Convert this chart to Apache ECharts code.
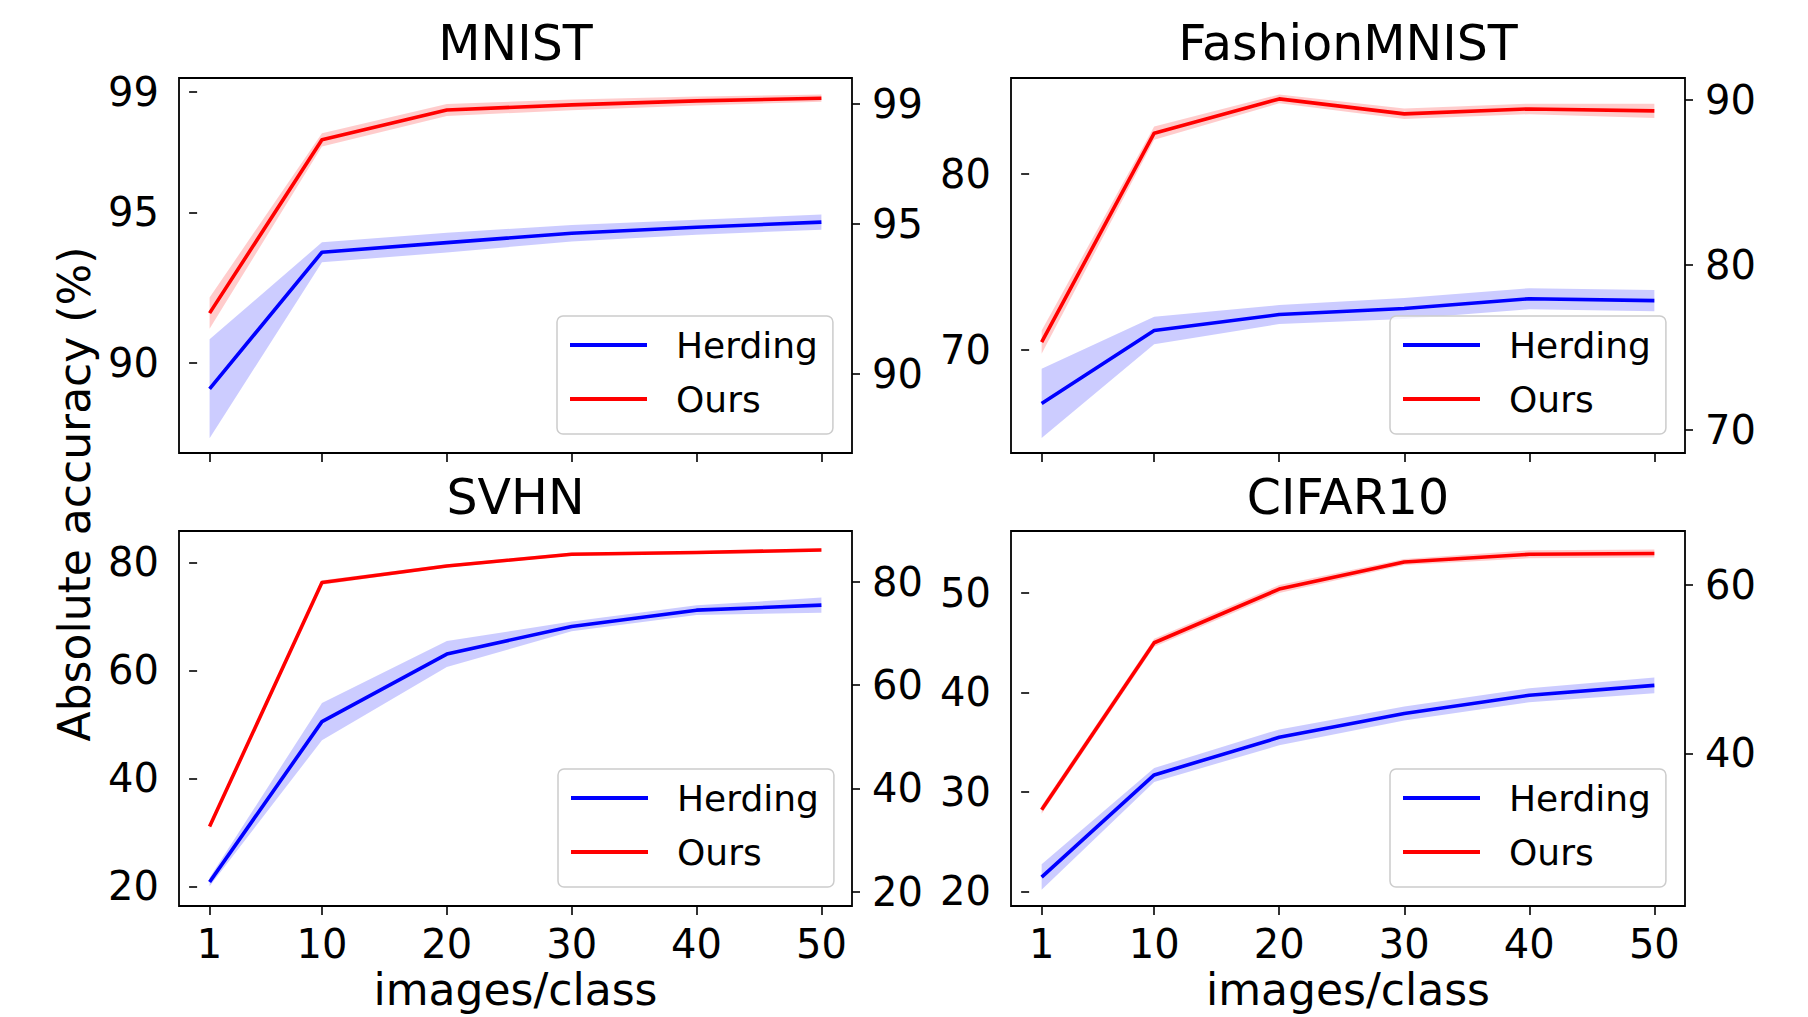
<!DOCTYPE html>
<html>
<head>
<meta charset="utf-8">
<script src="https://cdn.jsdelivr.net/npm/echarts@6/dist/echarts.min.js"></script>
<style>
html,body{margin:0;padding:0;background:#fff;}
#chart{width:1808px;height:1017px;}
</style>
</head>
<body>
<div id="chart"></div>
<script>
// ---------------- data ----------------
const xValues = [1, 10, 20, 30, 40, 50];
const xTicks = [1, 10, 20, 30, 40, 50];

const mnistHerding     = [89.15, 93.68, 94.00, 94.31, 94.51, 94.68];
const mnistHerdingStd  = [1.64, 0.33, 0.33, 0.27, 0.25, 0.25];
const mnistOurs        = [91.66, 97.41, 98.40, 98.57, 98.70, 98.79];
const mnistOursStd     = [0.52, 0.22, 0.20, 0.18, 0.15, 0.12];

const fashionHerding    = [66.95, 71.10, 72.01, 72.35, 72.91, 72.80];
const fashionHerdingStd = [1.97, 0.78, 0.54, 0.60, 0.60, 0.60];
const fashionOurs       = [70.44, 82.33, 84.28, 83.43, 83.71, 83.60];
const fashionOursStd    = [0.66, 0.38, 0.25, 0.30, 0.30, 0.40];

const svhnHerding    = [20.83, 50.52, 63.03, 68.15, 71.16, 72.09];
const svhnHerdingStd = [0.80, 3.45, 2.40, 0.90, 0.90, 1.40];
const svhnOurs       = [31.10, 76.28, 79.35, 81.52, 81.83, 82.31];
const svhnOursStd    = [0.50, 0.40, 0.30, 0.30, 0.30, 0.30];

const cifarHerding    = [21.44, 31.71, 35.49, 37.89, 39.72, 40.72];
const cifarHerdingStd = [1.28, 0.70, 0.80, 0.70, 0.70, 0.80];
const cifarOurs       = [28.21, 45.00, 50.40, 53.13, 53.90, 53.97];
const cifarOursStd    = [0.40, 0.40, 0.40, 0.30, 0.40, 0.40];

const mnistLeftTicks    = [90, 95, 99];
const mnistRightTicks   = [90, 95, 99];
const fashionLeftTicks  = [70, 80];
const fashionRightTicks = [70, 80, 90];
const svhnLeftTicks     = [20, 40, 60, 80];
const svhnRightTicks    = [20, 40, 60, 80];
const cifarLeftTicks    = [20, 30, 40, 50];
const cifarRightTicks   = [40, 60];

const titles = ['MNIST', 'FashionMNIST', 'SVHN', 'CIFAR10'];
const seriesNames = ['Herding', 'Ours'];

// ---------------- layout ----------------
const FONT = 'DejaVu Sans';
const BLUE = '#0000ff', RED = '#ff0000';
const BLUE_BAND = 'rgba(0,0,255,0.2)', RED_BAND = 'rgba(255,0,0,0.2)';

const panels = [
  {title: titles[0], grid: {left: 179, top: 78, width: 673, height: 375},
   left: {min: 87.02, max: 99.46, ticks: mnistLeftTicks},
   right: {min: 87.36, max: 99.85, ticks: mnistRightTicks},
   herding: mnistHerding, herdingStd: mnistHerdingStd, ours: mnistOurs, oursStd: mnistOursStd,
   legend: {left: 557, top: 316}, bottom: false, titleY: 26},
  {title: titles[1], grid: {left: 1011, top: 78, width: 674, height: 375},
   left: {min: 64.13, max: 85.47, ticks: fashionLeftTicks},
   right: {min: 68.59, max: 91.31, ticks: fashionRightTicks},
   herding: fashionHerding, herdingStd: fashionHerdingStd, ours: fashionOurs, oursStd: fashionOursStd,
   legend: {left: 1390, top: 316}, bottom: false, titleY: 26},
  {title: titles[2], grid: {left: 179, top: 531, width: 673, height: 375},
   left: {min: 16.38, max: 85.82, ticks: svhnLeftTicks},
   right: {min: 17.22, max: 89.86, ticks: svhnRightTicks},
   herding: svhnHerding, herdingStd: svhnHerdingStd, ours: svhnOurs, oursStd: svhnOursStd,
   legend: {left: 558, top: 769}, bottom: true, titleY: 480},
  {title: titles[3], grid: {left: 1011, top: 531, width: 674, height: 375},
   left: {min: 18.53, max: 56.24, ticks: cifarLeftTicks},
   right: {min: 21.9, max: 66.35, ticks: cifarRightTicks},
   herding: cifarHerding, herdingStd: cifarHerdingStd, ours: cifarOurs, oursStd: cifarOursStd,
   legend: {left: 1390, top: 769}, bottom: true, titleY: 480}
];

const grids = [], xAxes = [], yAxes = [], series = [], legends = [], graphics = [];

function bandSeries(gi, mean, sd, color) {
  return {
    type: 'custom', xAxisIndex: gi, yAxisIndex: gi * 2, silent: true, z: 1, clip: true,
    data: xValues.map((x, i) => [x, mean[i] - sd[i], mean[i] + sd[i]]),
    encode: {x: 0, y: [1, 2]},
    renderItem: function (params, api) {
      if (params.dataIndex !== 0) return null;
      const upper = xValues.map((x, i) => api.coord([x, mean[i] + sd[i]]));
      const lower = xValues.map((x, i) => api.coord([x, mean[i] - sd[i]])).reverse();
      return {type: 'polygon', shape: {points: upper.concat(lower)}, style: {fill: color}};
    }
  };
}
function lineSeries(gi, name, mean, color) {
  return {
    type: 'line', name: name, xAxisIndex: gi, yAxisIndex: gi * 2, z: 3,
    data: xValues.map((x, i) => [x, mean[i]]),
    symbol: 'none', showSymbol: false,
    lineStyle: {color: color, width: 3.6, join: 'round'},
    itemStyle: {color: color}
  };
}

const tickStyle = {color: '#000', width: 1.6};
const labelBase = {fontSize: 40, fontFamily: FONT, color: '#000'};

panels.forEach((p, gi) => {
  grids.push(Object.assign({show: true, borderColor: '#000', borderWidth: 1.8,
    backgroundColor: 'transparent', containLabel: false, outerBoundsMode: 'none'}, p.grid));
  xAxes.push({
    gridIndex: gi, type: 'value', min: -1.45, max: 52.45,
    axisLine: {show: false}, splitLine: {show: false},
    axisTick: {show: true, length: 9, lineStyle: tickStyle, customValues: xTicks},
    axisLabel: Object.assign({show: p.bottom, margin: 18, customValues: xTicks}, labelBase)
  });
  yAxes.push({
    gridIndex: gi, type: 'value', position: 'left', min: p.left.min, max: p.left.max,
    axisLine: {show: false}, splitLine: {show: false},
    axisTick: {show: true, length: 8, lineStyle: tickStyle, customValues: p.left.ticks},
    axisLabel: Object.assign({margin: 20, customValues: p.left.ticks}, labelBase)
  });
  yAxes.push({
    gridIndex: gi, type: 'value', position: 'right', min: p.right.min, max: p.right.max,
    axisLine: {show: false}, splitLine: {show: false},
    axisTick: {show: true, length: 8, lineStyle: tickStyle, customValues: p.right.ticks},
    axisLabel: Object.assign({margin: 20, customValues: p.right.ticks}, labelBase)
  });
  series.push(bandSeries(gi, p.herding, p.herdingStd, BLUE_BAND));
  series.push(bandSeries(gi, p.ours, p.oursStd, RED_BAND));
  series.push(lineSeries(gi, seriesNames[0], p.herding, BLUE));
  series.push(lineSeries(gi, seriesNames[1], p.ours, RED));
  legends.push({
    data: seriesNames, orient: 'vertical', left: p.legend.left, top: p.legend.top,
    icon: 'rect', itemWidth: 77, itemHeight: 4, itemGap: 18,
    padding: [11, 15, 17, 13],
    backgroundColor: 'rgba(255,255,255,0.8)', borderColor: '#cccccc', borderWidth: 1.5, borderRadius: 6,
    selectedMode: false,
    textStyle: {fontSize: 36, fontFamily: FONT, color: '#000', lineHeight: 36, padding: [0, 0, 0, 24]}
  });
  const cx = p.grid.left + p.grid.width / 2;
  graphics.push({
    type: 'text', x: cx, y: p.titleY + 17,
    style: {text: p.title, font: '49px "DejaVu Sans"', fill: '#000', textAlign: 'center', textVerticalAlign: 'middle'}
  });
  if (p.bottom) {
    graphics.push({
      type: 'text', x: cx, y: 989,
      style: {text: 'images/class', font: '44px "DejaVu Sans"', fill: '#000', textAlign: 'center', textVerticalAlign: 'middle'}
    });
  }
});

graphics.push({
  type: 'text', x: 74, y: 494, rotation: Math.PI / 2,
  style: {text: 'Absolute accuracy (%)', font: '44px "DejaVu Sans"', fill: '#000', textAlign: 'center', textVerticalAlign: 'middle'}
});

const chart = echarts.init(document.getElementById('chart'), null, {renderer: 'svg', width: 1808, height: 1017});
chart.setOption({
  animation: false,
  backgroundColor: '#ffffff',
  grid: grids, xAxis: xAxes, yAxis: yAxes, series: series, legend: legends, graphic: graphics
});
</script>
</body>
</html>
